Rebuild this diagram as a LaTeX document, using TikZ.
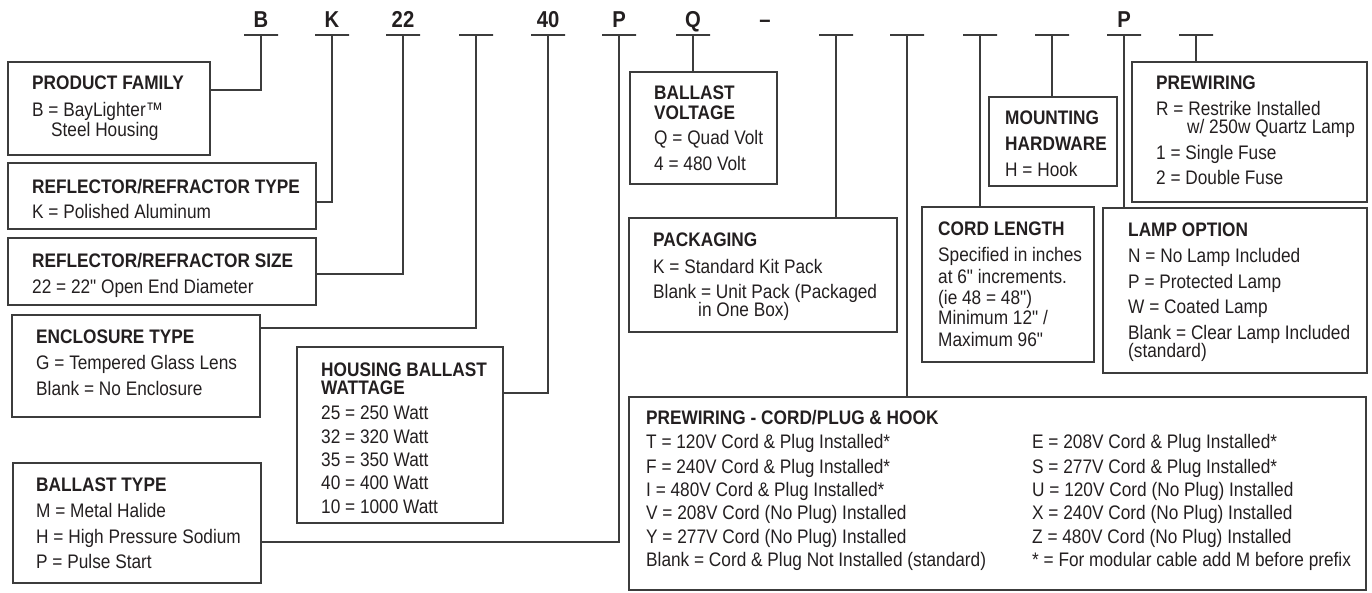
\documentclass[tikz,border=0pt]{standalone}
\usepackage{fontspec}
\setmainfont{Liberation Sans}[FakeStretch=0.88, Ligatures=TeXOff]
\definecolor{linec}{HTML}{3C3C3C}
\definecolor{textc}{HTML}{231F20}
\newcommand\partbox[5]{\node[bx, minimum width={(#4-#2)*1pt}, minimum height={(#5-#3)*1pt}] (#1) at (#2,#3) {};}
\begin{document}
\begin{tikzpicture}[x=1pt,y=-1pt,
  ln/.style={draw=linec, line width=1.3pt},
  bx/.style={draw=linec, line width=1.3pt, inner sep=0pt, outer sep=0pt, anchor=north west, rectangle},
  ul/.style={draw=linec, line width=1.3pt, inner sep=0pt, outer sep=0pt, minimum width=34pt, minimum height=0pt, rectangle},
  lt/.style={anchor=base, inner sep=0pt, font=\fontsize{23}{25}\selectfont\bfseries, text=textc},
  txt/.style={anchor=base west, inner sep=0pt, font=\fontsize{19.6}{21}\selectfont, text=textc},
  ttl/.style={anchor=base west, inner sep=0pt, font=\fontsize{19.6}{21}\selectfont\bfseries, text=textc},
]
\useasboundingbox (0,0) rectangle (1372,592);

% top code letters
\node[lt] (lB) at (261,27) {B};
\node[lt] (lK) at (332,27) {K};
\node[lt] (l22) at (403,27) {22};
\node[lt] (l40) at (548,27) {40};
\node[lt] (lP) at (619,27) {P};
\node[lt] (lQ) at (693,27) {Q};
\node[lt] (lDash) at (765,27) {–};
\node[lt] (lP2) at (1124,27) {P};

% underlines
\node[ul] (uB) at (261,35) {};
\node[ul] (uK) at (332,35) {};
\node[ul] (u22) at (403,35) {};
\node[ul] (uE) at (476,35) {};
\node[ul] (u40) at (548,35) {};
\node[ul] (uP) at (619,35) {};
\node[ul] (uQ) at (693,35) {};
\node[ul] (uPk) at (836,35) {};
\node[ul] (uCp) at (907,35) {};
\node[ul] (uCl) at (980,35) {};
\node[ul] (uMh) at (1052,35) {};
\node[ul] (uLo) at (1124,35) {};
\node[ul] (uPw) at (1196,35) {};

% boxes
\partbox{pf}{8}{62}{210}{155}
\partbox{rt}{8}{163}{316}{229}
\partbox{rs}{8}{238}{316}{305}
\partbox{et}{12}{315}{260}{417}
\partbox{bt}{13}{463}{261}{583}
\partbox{hw}{297}{347}{503}{523}
\partbox{bv}{630}{72}{777}{184}
\partbox{pk}{629}{218}{897}{332}
\partbox{mh}{989}{97}{1117}{186}
\partbox{pw}{1132}{62}{1367}{202}
\partbox{cl}{922}{207}{1094}{362}
\partbox{lo}{1103}{208}{1367}{373}
\partbox{pc}{629}{397}{1366}{590}

% connectors
\draw[ln] (uB.center) |- (pf.east |- 0,90);
\draw[ln] (uK.center) |- (rt.east |- 0,202);
\draw[ln] (u22.center) |- (rs.east |- 0,274);
\draw[ln] (uE.center) |- (et.east |- 0,328);
\draw[ln] (u40.center) |- (hw.east |- 0,393);
\draw[ln] (uP.center) |- (bt.east |- 0,542);
\draw[ln] (uQ.center) -- (bv.north -| uQ.center);
\draw[ln] (uPk.center) -- (pk.north -| uPk.center);
\draw[ln] (uCp.center) -- (pc.north -| uCp.center);
\draw[ln] (uCl.center) -- (cl.north -| uCl.center);
\draw[ln] (uMh.center) -- (mh.north -| uMh.center);
\draw[ln] (uLo.center) -- (lo.north -| uLo.center);
\draw[ln] (uPw.center) -- (pw.north -| uPw.center);

% product family
\node[ttl] (pf1) at (32,89) {PRODUCT FAMILY};
\node[txt] (pf2) at (32,116) {B = BayLighter™};
\node[txt] (pf3) at (51,136) {Steel Housing};
% reflector type
\node[ttl] (rt1) at (32,193) {REFLECTOR/REFRACTOR TYPE};
\node[txt] (rt2) at (32,218) {K = Polished Aluminum};
% reflector size
\node[ttl] (rs1) at (32,267) {REFLECTOR/REFRACTOR SIZE};
\node[txt] (rs2) at (32,293) {22 = 22" Open End Diameter};
% enclosure
\node[ttl] (et1) at (36,343) {ENCLOSURE TYPE};
\node[txt] (et2) at (36,369) {G = Tempered Glass Lens};
\node[txt] (et3) at (36,395) {Blank = No Enclosure};
% ballast type
\node[ttl] (bt1) at (36,491) {BALLAST TYPE};
\node[txt] (bt2) at (36,517) {M = Metal Halide};
\node[txt] (bt3) at (36,543) {H = High Pressure Sodium};
\node[txt] (bt4) at (36,568) {P = Pulse Start};
% housing ballast wattage
\node[ttl] (hw1) at (321,376) {HOUSING BALLAST};
\node[ttl] (hw2) at (321,394) {WATTAGE};
\node[txt] (hw3) at (321,419) {25 = 250 Watt};
\node[txt] (hw4) at (321,443) {32 = 320 Watt};
\node[txt] (hw5) at (321,466) {35 = 350 Watt};
\node[txt] (hw6) at (321,489) {40 = 400 Watt};
\node[txt] (hw7) at (321,513) {10 = 1000 Watt};
% ballast voltage
\node[ttl] (bv1) at (654,99) {BALLAST};
\node[ttl] (bv2) at (654,119) {VOLTAGE};
\node[txt] (bv3) at (654,144) {Q = Quad Volt};
\node[txt] (bv4) at (654,170) {4 = 480 Volt};
% packaging
\node[ttl] (pk1) at (653,246) {PACKAGING};
\node[txt] (pk2) at (653,273) {K = Standard Kit Pack};
\node[txt] (pk3) at (653,298) {Blank = Unit Pack (Packaged};
\node[txt] (pk4) at (698,316) {in One Box)};
% mounting hardware
\node[ttl] (mh1) at (1005,124) {MOUNTING};
\node[ttl] (mh2) at (1005,150) {HARDWARE};
\node[txt] (mh3) at (1005,176) {H = Hook};
% prewiring
\node[ttl] (pw1) at (1156,89) {PREWIRING};
\node[txt] (pw2) at (1156,115) {R = Restrike Installed};
\node[txt] (pw3) at (1187,133) {w/ 250w Quartz Lamp};
\node[txt] (pw4) at (1156,159) {1 = Single Fuse};
\node[txt] (pw5) at (1156,184) {2 = Double Fuse};
% cord length
\node[ttl] (cl1) at (938,235) {CORD LENGTH};
\node[txt] (cl2) at (938,261) {Specified in inches};
\node[txt] (cl3) at (938,283) {at 6" increments.};
\node[txt] (cl4) at (938,304) {(ie 48 = 48")};
\node[txt] (cl5) at (938,324) {Minimum 12" /};
\node[txt] (cl6) at (938,346) {Maximum 96"};
% lamp option
\node[ttl] (lo1) at (1128,236) {LAMP OPTION};
\node[txt] (lo2) at (1128,262) {N = No Lamp Included};
\node[txt] (lo3) at (1128,288) {P = Protected Lamp};
\node[txt] (lo4) at (1128,313) {W = Coated Lamp};
\node[txt] (lo5) at (1128,339) {Blank = Clear Lamp Included};
\node[txt] (lo6) at (1128,357) {(standard)};
% prewiring cord/plug & hook
\node[ttl] (pc0) at (646,424) {PREWIRING - CORD/PLUG \& HOOK};
\node[txt] (pc1) at (646,448) {T = 120V Cord \& Plug Installed*};
\node[txt] (pc2) at (646,473) {F = 240V Cord \& Plug Installed*};
\node[txt] (pc3) at (646,496) {I = 480V Cord \& Plug Installed*};
\node[txt] (pc4) at (646,519) {V = 208V Cord (No Plug) Installed};
\node[txt] (pc5) at (646,543) {Y = 277V Cord (No Plug) Installed};
\node[txt] (pc6) at (646,566) {Blank = Cord \& Plug Not Installed (standard)};
\node[txt] (pc7) at (1032,448) {E = 208V Cord \& Plug Installed*};
\node[txt] (pc8) at (1032,473) {S = 277V Cord \& Plug Installed*};
\node[txt] (pc9) at (1032,496) {U = 120V Cord (No Plug) Installed};
\node[txt] (pc10) at (1032,519) {X = 240V Cord (No Plug) Installed};
\node[txt] (pc11) at (1032,543) {Z = 480V Cord (No Plug) Installed};
\node[txt] (pc12) at (1032,566) {* = For modular cable add M before prefix};
\end{tikzpicture}
\end{document}
